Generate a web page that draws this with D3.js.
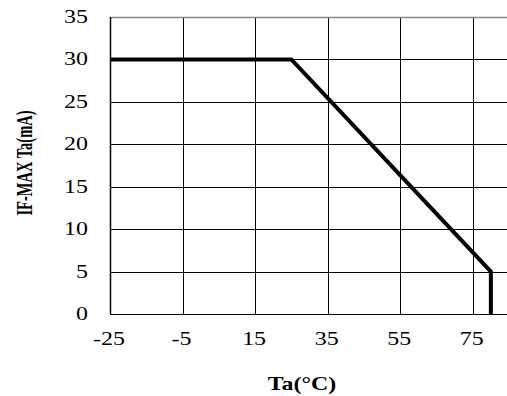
<!DOCTYPE html>
<html><head><meta charset="utf-8">
<script src="https://cdn.jsdelivr.net/npm/d3@7"></script>
<style>body{margin:0;background:#fff}svg{display:block}</style>
</head><body>
<script>
const xTicks = [-25, -5, 15, 35, 55, 75];
const yTicks = [0, 5, 10, 15, 20, 25, 30, 35];
const temps = [-25, 25, 80, 80];
const current = [30, 30, 5, 0];
const xTitle = "Ta(°C)";
const yTitle = "IF-MAX Ta(mA)";

const W = 507, H = 396;
const SX = 1.33; // horizontal stretch of the original text
const svg = d3.select("body").append("svg").attr("width", W).attr("height", H);
const x = d3.scaleLinear().domain([-25, 85]).range([110, 509]);
const y = d3.scaleLinear().domain([0, 35]).range([314, 17]);
const font = "'Liberation Serif','Times New Roman',serif";
const cr = v => Math.round(v) + 0.5;

// vertical gridlines
svg.append("g").selectAll("line").data(xTicks).join("line")
  .attr("x1", d => cr(x(d))).attr("x2", d => cr(x(d)))
  .attr("y1", y(35)).attr("y2", y(0))
  .attr("stroke", "#000").attr("stroke-width", 1);
// horizontal gridlines
svg.append("g").selectAll("line").data(yTicks).join("line")
  .attr("x1", x(-25)).attr("x2", W)
  .attr("y1", d => cr(y(d))).attr("y2", d => cr(y(d)))
  .attr("stroke", d => d === 35 ? "#888" : "#000").attr("stroke-width", d => d === 35 ? 1.5 : 1);
// left axis
svg.append("line").attr("x1", cr(x(-25))).attr("x2", cr(x(-25)))
  .attr("y1", y(35)).attr("y2", y(0)).attr("stroke", "#000").attr("stroke-width", 1.5);

// y tick labels
svg.append("g").selectAll("text").data(yTicks).join("text")
  .attr("transform", d => `translate(88,${y(d)}) scale(${SX},1)`)
  .attr("dy", "0.33em")
  .attr("text-anchor", "end").attr("font-family", font).attr("font-size", 18)
  .text(d => d);
// x tick labels
svg.append("g").selectAll("text").data(xTicks).join("text")
  .attr("transform", d => `translate(${x(d) - 1},345) scale(${SX},1)`)
  .attr("text-anchor", "middle").attr("font-family", font).attr("font-size", 18)
  .text(d => d);

// curve
const pts = temps.map((t, i) => [t, current[i]]);
svg.append("path").datum(pts)
  .attr("d", d3.line().x(d => x(d[0])).y(d => y(d[1])))
  .attr("fill", "none").attr("stroke", "#000").attr("stroke-width", 4)
  .attr("stroke-linejoin", "miter");

// titles
svg.append("text").attr("transform", `translate(302,390) scale(${SX},1)`).attr("text-anchor", "middle")
  .attr("font-family", font).attr("font-size", 18).attr("font-weight", "bold").text(xTitle);
svg.append("text").attr("transform", `translate(31.5,163) rotate(-90) scale(1,1.6)`).attr("text-anchor", "middle")
  .attr("font-family", font).attr("font-size", 14.5).attr("font-weight", "bold").text(yTitle);
</script>
</body></html>
